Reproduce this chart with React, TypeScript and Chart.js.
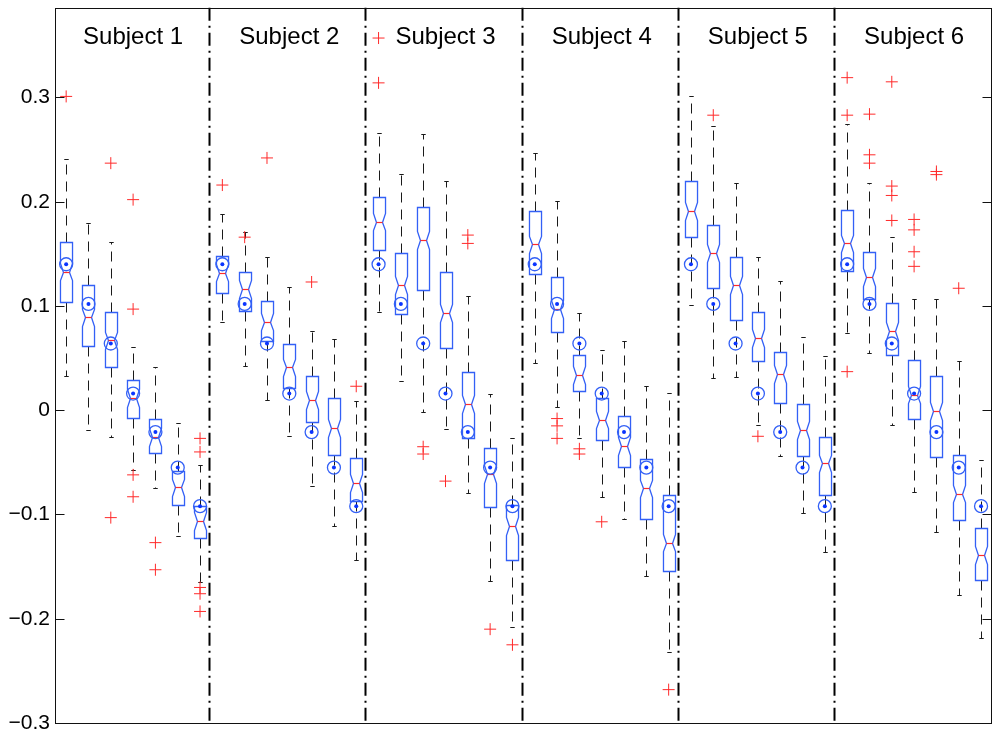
import React, { useEffect, useRef } from "react";
import { Chart, registerables } from "chart.js";

Chart.register(...registerables);

// six subjects, seven estimates each (boxes 1..42 along x)
const subjects = ["Subject 1", "Subject 2", "Subject 3", "Subject 4", "Subject 5", "Subject 6"];

// reference values (circles), same for every subject
const trueValues = [0.14, 0.102, 0.064, 0.016, -0.021, -0.055, -0.092];

const whiskerHigh = [
  0.241, 0.18, 0.161, 0.061, 0.041, -0.012, -0.053,
  0.188, 0.171, 0.147, 0.118, 0.076, 0.068, 0.009,
  0.266, 0.227, 0.265, 0.22, 0.11, 0.016, -0.027,
  0.247, 0.201, 0.093, 0.058, 0.066, 0.023, 0.017,
  0.301, 0.273, 0.218, 0.147, 0.124, 0.07, 0.052,
  0.275, 0.218, 0.166, 0.107, 0.107, 0.047, -0.048,
];

const upperQuartile = [
  0.161, 0.12, 0.094, 0.029, -0.008, -0.058, -0.092,
  0.148, 0.133, 0.105, 0.064, 0.033, 0.012, -0.046,
  0.205, 0.151, 0.195, 0.133, 0.037, -0.036, -0.091,
  0.191, 0.128, 0.053, 0.012, -0.006, -0.047, -0.081,
  0.22, 0.178, 0.147, 0.094, 0.056, 0.006, -0.026,
  0.192, 0.152, 0.103, 0.048, 0.033, -0.043, -0.113,
];

const medians = [
  0.133, 0.089, 0.067, 0.012, -0.026, -0.074, -0.106,
  0.132, 0.116, 0.085, 0.041, 0.01, -0.017, -0.07,
  0.181, 0.12, 0.163, 0.093, 0.006, -0.061, -0.111,
  0.159, 0.097, 0.034, -0.009, -0.034, -0.075, -0.127,
  0.191, 0.151, 0.12, 0.069, 0.035, -0.019, -0.051,
  0.16, 0.128, 0.076, 0.015, -0.001, -0.08, -0.139,
];

const lowerQuartile = [
  0.104, 0.062, 0.041, -0.007, -0.041, -0.091, -0.123,
  0.112, 0.095, 0.066, 0.021, -0.011, -0.043, -0.087,
  0.154, 0.092, 0.115, 0.06, -0.027, -0.093, -0.144,
  0.131, 0.075, 0.018, -0.029, -0.054, -0.104, -0.154,
  0.166, 0.117, 0.087, 0.047, 0.007, -0.044, -0.081,
  0.134, 0.107, 0.053, -0.008, -0.045, -0.105, -0.163,
];

const whiskerLow = [
  0.033, -0.019, -0.026, -0.057, -0.075, -0.121, -0.165,
  0.085, 0.042, 0.01, -0.025, -0.073, -0.111, -0.144,
  0.094, 0.028, -0.002, -0.018, -0.079, -0.164, -0.208,
  0.045, 0.003, -0.027, -0.083, -0.104, -0.159, -0.232,
  0.101, 0.031, 0.032, -0.014, -0.044, -0.099, -0.136,
  0.074, 0.055, -0.014, -0.078, -0.117, -0.177, -0.218,
];

const outliers: number[][] = [
  [0.301], [], [0.237, -0.103], [0.202, 0.097, -0.062, -0.083], [-0.127, -0.153], [], [-0.027, -0.04, -0.17, -0.176, -0.193],
  [0.216], [0.166], [0.242], [], [0.123], [], [0.023],
  [0.357, 0.314], [], [-0.035, -0.042], [-0.068], [0.168, 0.16], [-0.21], [-0.225],
  [], [-0.008, -0.015, -0.027], [-0.037, -0.042], [-0.107], [], [], [-0.268],
  [], [0.283], [], [-0.025], [], [], [],
  [0.319, 0.283, 0.037], [0.284, 0.245, 0.237], [0.315, 0.215, 0.206, 0.182], [0.183, 0.173, 0.152, 0.138], [0.229, 0.226], [0.117], [],
];

const yTicks = [-0.3, -0.2, -0.1, 0, 0.1, 0.2, 0.3];
const Y_MIN = -0.3;
const Y_MAX = 0.386;
const NOTCH = 0.0085;
const LABEL_Y = 0.358;

const BLUE = "#3360f6";
const RED = "#ff2a2a";
const FONT = "'Liberation Sans', Arial, Helvetica, sans-serif";

const perSubject = trueValues.length;
const boxCount = medians.length;

const boxPlugin = {
  id: "notchedBoxes",
  beforeDatasetsDraw(chart: any) {
    const { ctx, chartArea, scales } = chart;
    const x = scales.x;
    const y = scales.y;
    const line = (x1: number, y1: number, x2: number, y2: number) => {
      ctx.beginPath();
      ctx.moveTo(x1, y1);
      ctx.lineTo(x2, y2);
      ctx.stroke();
    };
    const py = (v: number) => Math.round(y.getPixelForValue(v)) + 0.5;

    ctx.save();

    // dash-dot separators between subjects
    ctx.strokeStyle = "#000";
    ctx.lineWidth = 2;
    ctx.setLineDash([13, 5, 2, 5]);
    for (let s = 1; s < subjects.length; s++) {
      const px = Math.round(x.getPixelForValue(s * perSubject + 0.5)) - 1.5;
      line(px, chartArea.top, px, chartArea.bottom);
    }

    for (let i = 0; i < boxCount; i++) {
      const cx = Math.round(x.getPixelForValue(i + 1)) + 0.5;
      const half = x.getPixelForValue(i + 1.27) - x.getPixelForValue(i + 1);
      const cap = x.getPixelForValue(i + 1.1) - x.getPixelForValue(i + 1);
      const inset = half * 0.5;

      const pHi = py(whiskerHigh[i]);
      const pQ3 = py(upperQuartile[i]);
      const pMed = py(medians[i]);
      const pQ1 = py(lowerQuartile[i]);
      const pLo = py(whiskerLow[i]);
      const pNTop = py(Math.min(medians[i] + NOTCH, upperQuartile[i]));
      const pNBot = py(Math.max(medians[i] - NOTCH, lowerQuartile[i]));

      // whiskers
      ctx.strokeStyle = "#1a1a1a";
      ctx.lineWidth = 1;
      ctx.setLineDash([10, 7]);
      line(cx, pQ3, cx, pHi);
      line(cx, pQ1, cx, pLo);
      ctx.setLineDash([]);
      line(cx - cap, pHi, cx + cap, pHi);
      line(cx - cap, pLo, cx + cap, pLo);

      // notched box
      const l = cx - half;
      const r = cx + half;
      ctx.strokeStyle = BLUE;
      ctx.lineWidth = 1.3;
      ctx.beginPath();
      ctx.moveTo(l, pQ1);
      ctx.lineTo(l, pNBot);
      ctx.lineTo(l + inset, pMed);
      ctx.lineTo(l, pNTop);
      ctx.lineTo(l, pQ3);
      ctx.lineTo(r, pQ3);
      ctx.lineTo(r, pNTop);
      ctx.lineTo(r - inset, pMed);
      ctx.lineTo(r, pNBot);
      ctx.lineTo(r, pQ1);
      ctx.closePath();
      ctx.stroke();

      // median
      ctx.strokeStyle = RED;
      ctx.lineWidth = 1.2;
      line(l + inset, pMed, r - inset, pMed);
    }
    ctx.restore();
  },
  afterDraw(chart: any) {
    const { ctx, chartArea, scales } = chart;
    const x = scales.x;
    const y = scales.y;
    const { left, right, top, bottom } = chartArea;
    ctx.save();

    // axes box with inward ticks on both sides
    ctx.strokeStyle = "#111";
    ctx.lineWidth = 1;
    ctx.setLineDash([]);
    const l = Math.round(left) + 0.5;
    const r = Math.round(right) - 0.5;
    ctx.strokeRect(l, Math.round(top) + 0.5, r - l, Math.round(bottom) - Math.round(top));
    for (const v of yTicks) {
      const p = Math.round(y.getPixelForValue(v)) + 0.5;
      ctx.beginPath();
      ctx.moveTo(l, p);
      ctx.lineTo(l + 9, p);
      ctx.moveTo(r, p);
      ctx.lineTo(r - 9, p);
      ctx.stroke();
    }

    // subject titles
    ctx.fillStyle = "#000";
    ctx.font = `24px ${FONT}`;
    ctx.textAlign = "center";
    ctx.textBaseline = "middle";
    subjects.forEach((name, s) => {
      const cx = x.getPixelForValue(s * perSubject + (perSubject + 1) / 2);
      ctx.fillText(name, cx, y.getPixelForValue(LABEL_Y));
    });
    ctx.restore();
  },
};

const positionOf = (i: number) => i + 1;

const App = () => {
  const canvasRef = useRef<HTMLCanvasElement>(null);
  const chartRef = useRef<Chart | null>(null);

  useEffect(() => {
    document.body.style.margin = "0";
    if (!canvasRef.current) return;

    chartRef.current?.destroy();

    const outlierPoints = outliers.flatMap((vals, i) =>
      vals.map((v) => ({ x: positionOf(i), y: v }))
    );
    const refPoints = medians.map((_, i) => ({
      x: positionOf(i),
      y: trueValues[i % perSubject],
    }));

    chartRef.current = new Chart(canvasRef.current, {
      type: "scatter",
      data: {
        datasets: [
          {
            data: outlierPoints,
            pointStyle: "cross",
            pointRadius: 6,
            borderColor: RED,
            borderWidth: 1,
          },
          {
            data: refPoints,
            pointStyle: "circle",
            pointRadius: 6.5,
            borderColor: BLUE,
            backgroundColor: "rgba(0,0,0,0)",
            borderWidth: 1.3,
          },
          {
            data: refPoints,
            pointStyle: "circle",
            pointRadius: 2,
            borderWidth: 0,
            backgroundColor: "#0a34ff",
          },
        ],
      },
      options: {
        responsive: false,
        animation: false,
        layout: {
          padding: { top: 7, right: 6, bottom: 17, left: 0 },
        },
        plugins: {
          legend: { display: false },
          tooltip: { enabled: false },
        },
        scales: {
          x: {
            type: "linear",
            min: 0.5,
            max: boxCount + 0.5,
            display: false,
          },
          y: {
            type: "linear",
            min: Y_MIN,
            max: Y_MAX,
            grid: { display: false, drawTicks: false },
            border: { display: false },
            afterBuildTicks: (scale: any) => {
              scale.ticks = yTicks.map((v) => ({ value: v }));
            },
            afterFit: (scale: any) => {
              scale.width = 55;
              scale.paddingTop = 0;
              scale.paddingBottom = 0;
            },
            ticks: {
              padding: 5,
              color: "#000",
              font: { family: FONT, size: 21 },
              callback: (v: any) => {
                const n = Number(v);
                if (Math.abs(n) < 1e-9) return "0";
                return (n < 0 ? "\u2212" : "") + Math.abs(n).toFixed(1);
              },
            },
          },
        },
      },
      plugins: [boxPlugin],
    });

    return () => {
      chartRef.current?.destroy();
    };
  }, []);

  return (
    <div style={{ width: 1000, height: 740, background: "#fff" }}>
      <canvas ref={canvasRef} width={1000} height={740} />
    </div>
  );
};

export default App;
